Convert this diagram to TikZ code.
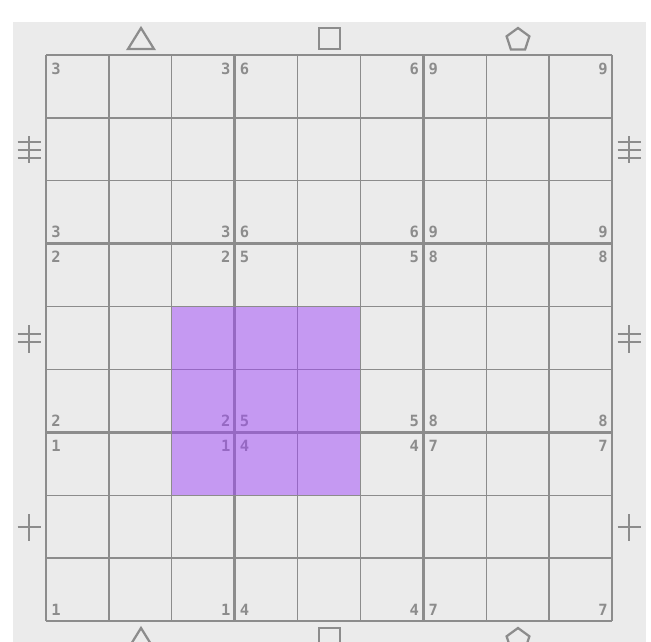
\documentclass[tikz,border=0pt]{standalone}
\usepackage{fontspec}
\newfontfamily\digitfont{DejaVu Sans Mono}
\definecolor{boardbg}{RGB}{235,235,235}
\definecolor{linegray}{RGB}{140,140,140}
\definecolor{cagepurple}{RGB}{160,72,250}

\begin{document}
\begin{tikzpicture}[
        x=0.025cm, y=-0.025cm,
        thinline/.style={draw=linegray, line width=1pt},
        thickline/.style={draw=linegray, line width=2.1pt},
        markline/.style={draw=linegray, line width=1.5pt},
        shapeline/.style={draw=linegray, line width=1.6pt, line join=miter},
        highlight/.style={fill=cagepurple, fill opacity=0.5},
        corner/.style={
            inner sep=0pt,
            text=linegray,
            font=\digitfont\bfseries\fontsize{11}{11}\selectfont
        }
    ]
    \def\cs{62.889}

    \clip (0,0) rectangle (651,641);
    \fill[boardbg] (13,22) rectangle (646,660);

    % =========================
    % Grid
    % =========================
    \foreach \i in {1,2,4,5,7,8} {
        \draw[thinline] ({46+\i*\cs},55) -- ({46+\i*\cs},621);
        \draw[thinline] (46,{55+\i*\cs}) -- (612,{55+\i*\cs});
    }
    \foreach \i in {0,3,6,9} {
        \draw[thickline] ({46+\i*\cs},55) -- ({46+\i*\cs},621);
        \draw[thickline] (46,{55+\i*\cs}) -- (612,{55+\i*\cs});
    }

    % =========================
    % Corner digits of the boxes
    % =========================
    \foreach \r in {0,1,2} {
        \foreach \c in {0,1,2} {
            \pgfmathtruncatemacro{\dig}{3*\c+3-\r}
            \pgfmathsetmacro{\bl}{46+3*\c*\cs}
            \pgfmathsetmacro{\br}{46+(3*\c+3)*\cs}
            \pgfmathsetmacro{\bt}{55+3*\r*\cs}
            \pgfmathsetmacro{\bb}{55+(3*\r+3)*\cs}
            \node[corner, anchor=north west] (d\r\c-tl) at (\bl+5,\bt+7.5) {\dig};
            \node[corner, anchor=north east] (d\r\c-tr) at (\br-4,\bt+7.5) {\dig};
            \node[corner, anchor=south west] (d\r\c-bl) at (\bl+5,\bb-5.5) {\dig};
            \node[corner, anchor=south east] (d\r\c-br) at (\br-4,\bb-5.5) {\dig};
        }
    }

    % =========================
    % Highlighted cells
    % =========================
    \fill[highlight] ({46+2*\cs},{55+4*\cs}) rectangle ({46+5*\cs},{55+7*\cs});

    % =========================
    % Marks left and right
    % =========================
    \foreach \x in {29,629} {
        % three bars
        \draw[markline] (\x,136) -- (\x,163);
        \draw[markline] (\x-11.5,142) -- (\x+11.5,142);
        \draw[markline, line width=2.1pt] (\x-11.5,150) -- (\x+11.5,150);
        \draw[markline] (\x-11.5,158) -- (\x+11.5,158);
        % two bars
        \draw[markline] (\x,325) -- (\x,353);
        \draw[markline, line width=2pt] (\x-11.5,334) -- (\x+11.5,334);
        \draw[markline, line width=2pt] (\x-11.5,342) -- (\x+11.5,342);
        % one bar
        \draw[markline] (\x,514) -- (\x,541);
        \draw[markline] (\x-11.5,527) -- (\x+11.5,527);
    }

    % =========================
    % Shapes above and below
    % =========================
    \foreach \y in {0,600} {
        \draw[shapeline] (128,49+\y) -- (141,28+\y) -- (154,49+\y) -- cycle;
        \draw[shapeline] (319,28+\y) rectangle (340,49+\y);
        \draw[shapeline] (518,28+\y) -- (529.4,36.3+\y) -- (525.1,49.5+\y)
            -- (510.9,49.5+\y) -- (506.6,36.3+\y) -- cycle;
    }

\end{tikzpicture}
\end{document}
